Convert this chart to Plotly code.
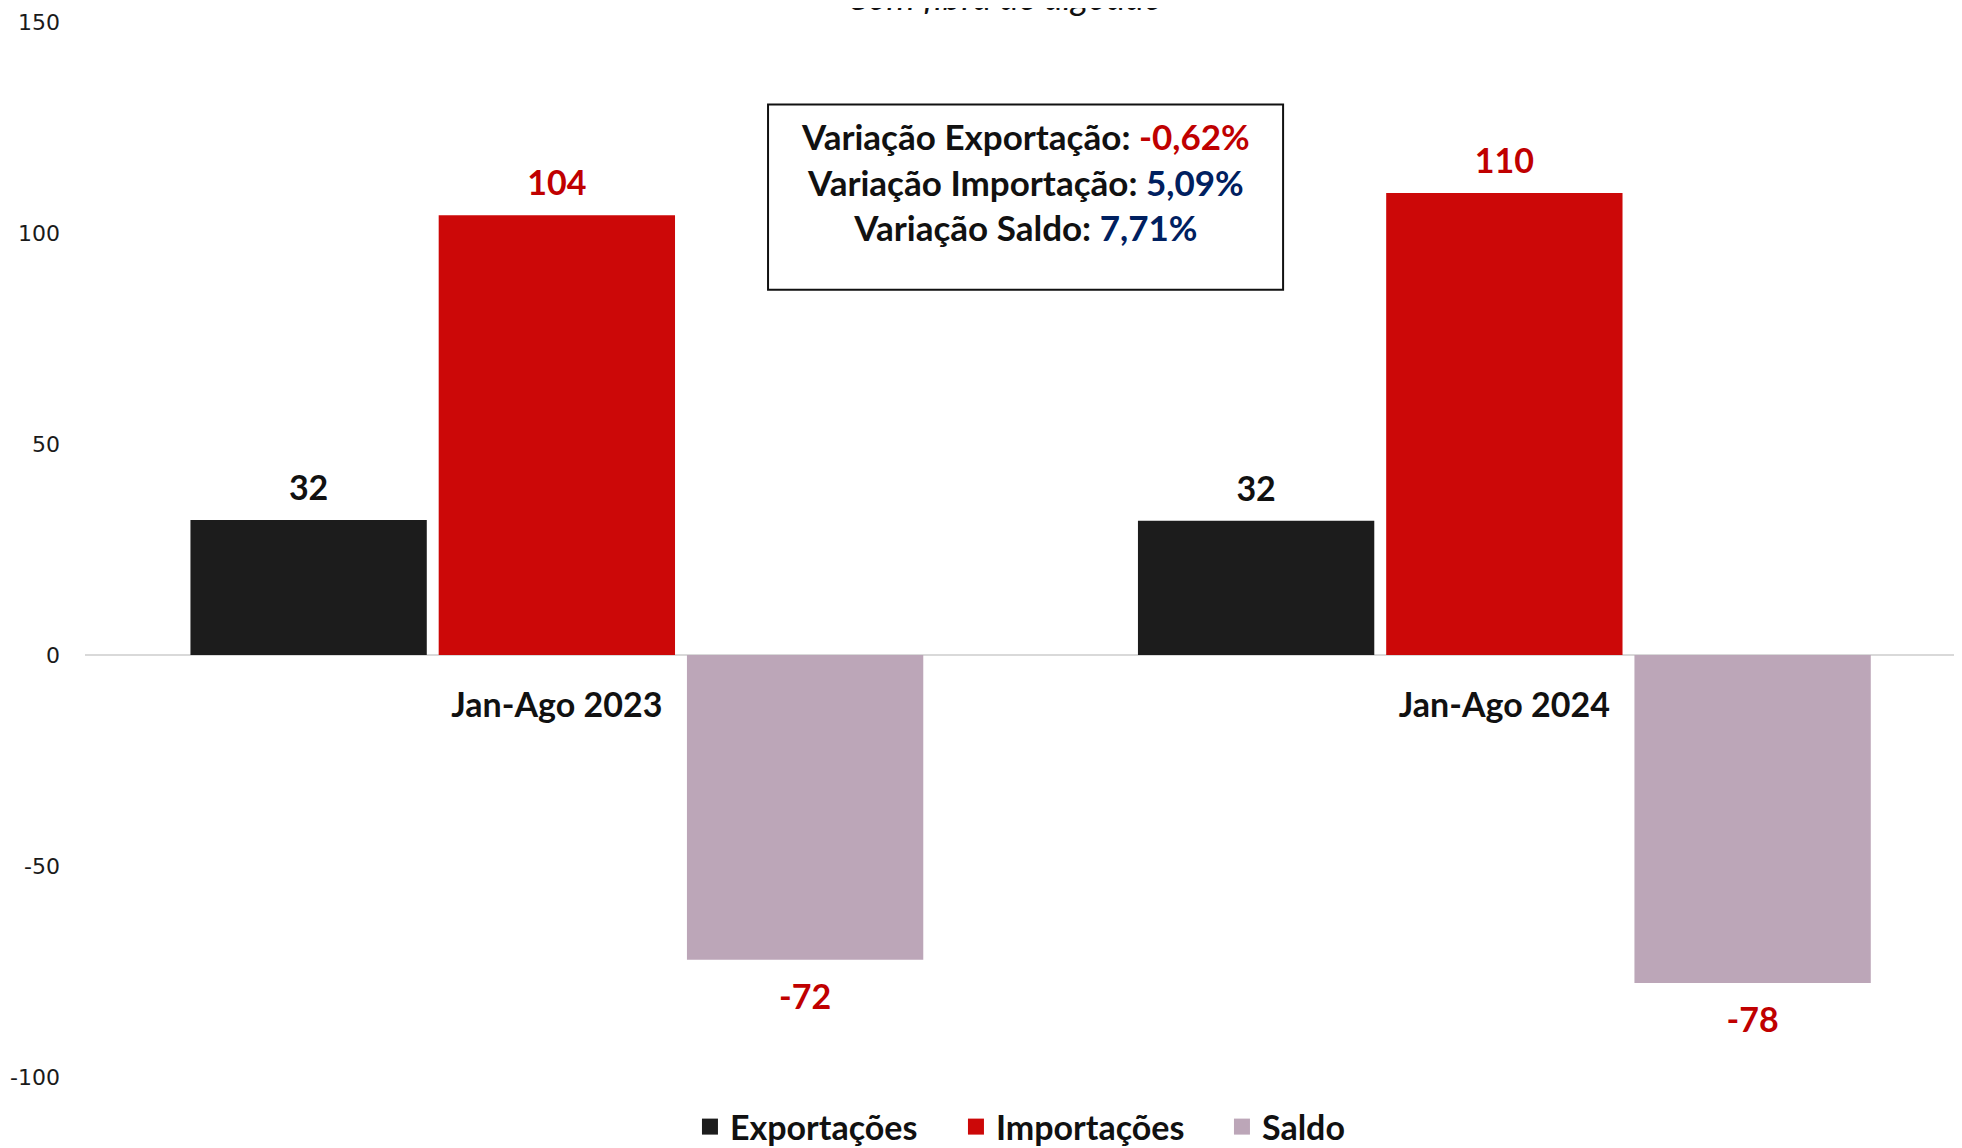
import plotly.graph_objects as go

# ---------------- data ----------------
categories = ["Jan-Ago 2023", "Jan-Ago 2024"]
series_names = ["Exportações", "Importações", "Saldo"]
exportacoes = [32.0, 31.8]
importacoes = [104.2, 109.5]
saldo = [-72.2, -77.7]
variacao_labels = ["Variação Exportação:", "Variação Importação:", "Variação Saldo:"]
variacao_values = ["-0,62%", "5,09%", "7,71%"]
y_ticks = [-100, -50, 0, 50, 100, 150]
y_ticktext = ["-100", "-50", "0", "50", "100", "150"]
title_text = "Com fibra de algodão"

# ---------------- style ----------------
FONT = "Lato"
bar_colors = ["#1c1c1c", "#cc0808", "#bca6b8"]
label_colors = ["#111111", "#c00000", "#c00000"]
var_colors = ["#c00000", "#002060", "#002060"]
groups = ["exp", "imp", "sal"]

fig = go.Figure()
series = [exportacoes, importacoes, saldo]

for name, vals, col, og in zip(series_names, series, bar_colors, groups):
    fig.add_trace(go.Bar(
        x=categories, y=vals, name=name, offsetgroup=og,
        marker=dict(color=col, line=dict(width=0)),
        showlegend=False,
    ))

for name, vals, lc, og in zip(series_names, series, label_colors, groups):
    fig.add_trace(go.Scatter(
        x=categories, y=vals, mode="markers+text", offsetgroup=og,
        text=[f"{v:.0f}" for v in vals],
        textposition=["top center" if v >= 0 else "bottom center" for v in vals],
        marker=dict(size=[17 if v >= 0 else 36 for v in vals], opacity=0),
        textfont=dict(family=FONT, size=34, color=lc, weight="bold"),
        showlegend=False, hoverinfo="skip",
    ))

for name, col, og in zip(series_names, bar_colors, groups):
    fig.add_trace(go.Scatter(
        x=[None], y=[None], mode="markers", name=name, offsetgroup=og,
        marker=dict(symbol="square", size=16, color=col),
    ))

box_text = "<br>".join(
    f"{lab} <span style='color:{c}'>{v}</span>"
    for lab, v, c in zip(variacao_labels, variacao_values, var_colors)
)

fig.update_layout(
    width=1962, height=1148,
    margin=dict(l=77, r=8, t=14, b=79, autoexpand=False),
    paper_bgcolor="white", plot_bgcolor="white",
    barmode="group", bargap=0.214, bargroupgap=0.048,
    scattermode="group", scattergap=0.214,
    font=dict(family=FONT, color="#111111"),
    xaxis=dict(
        type="category", range=[-0.498, 1.483],
        anchor="free", position=0.4, automargin=False,
        showline=False, showgrid=False, zeroline=False, ticks="",
        tickfont=dict(family=FONT, size=34, color="#111111", weight="bold"),
        ticklabelstandoff=27,
    ),
    yaxis=dict(
        range=[-100, 150], tickvals=y_ticks, ticktext=y_ticktext,
        automargin=False,
        showgrid=False, showline=False, ticks="",
        zeroline=True, zerolinecolor="#d9d9d9", zerolinewidth=2,
        tickfont=dict(family="DejaVu Sans", size=22, color="#1a1a1a"),
        ticklabelstandoff=24,
    ),
    legend=dict(
        orientation="h", x=0.3223, xanchor="left", y=-0.0474, yanchor="middle",
        font=dict(family=FONT, size=34, color="#111111", weight="bold"),
        itemsizing="trace", entrywidth=221, entrywidthmode="pixels",
    ),
    shapes=[dict(
        type="rect", xref="paper", yref="paper",
        x0=0.3639, x1=0.6383, y0=0.7463, y1=0.9218,
        line=dict(color="#111111", width=2), fillcolor="white", layer="above",
    )],
    annotations=[
        dict(
            text=box_text, xref="paper", yref="paper", x=0.5008, y=0.8487,
            xanchor="center", yanchor="middle", showarrow=False, align="center",
            font=dict(family=FONT, size=35, color="#111111", weight="bold"),
        ),
        dict(
            text=title_text, xref="paper", yref="paper", x=0.490, y=1.0242,
            xanchor="center", yanchor="middle", showarrow=False,
            font=dict(family=FONT, size=36, color="#111111", style="italic"),
        ),
    ],
)

fig.write_html("out.html")
